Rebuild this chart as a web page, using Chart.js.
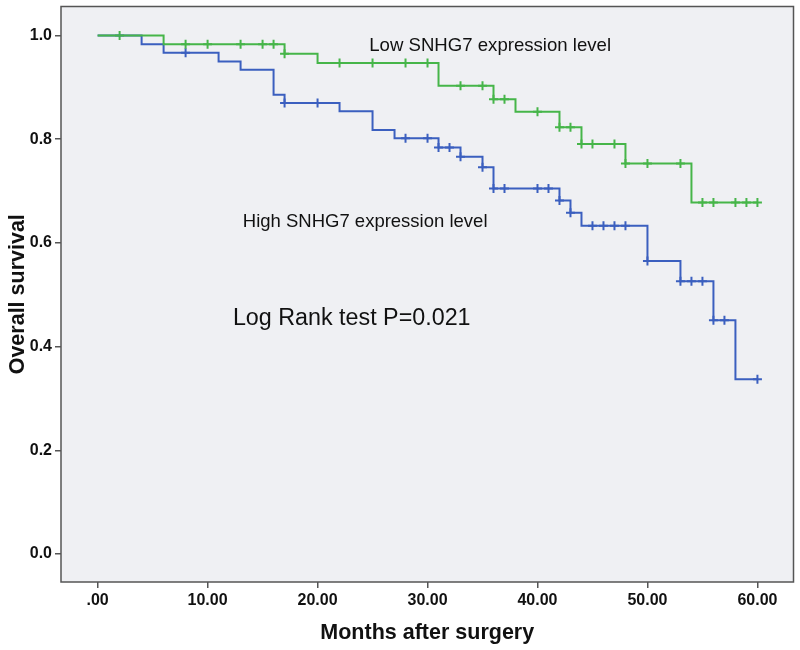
<!DOCTYPE html>
<html>
<head>
<meta charset="utf-8">
<script src="https://cdn.jsdelivr.net/npm/chart.js@4"></script>
<style>
  html, body { margin: 0; padding: 0; background: #fff; }
  #wrap { width: 800px; height: 650px; }
</style>
</head>
<body>
<div id="wrap"><canvas id="km" width="800" height="650"></canvas></div>
<script>
// Kaplan-Meier steps (time in months, survival after the drop)
const lowTimes = [0, 6, 17, 20, 31, 36, 38, 42, 44, 48, 54, 60];
const lowSurv = [1.0, 0.983, 0.965, 0.947, 0.903, 0.877, 0.853, 0.823, 0.791, 0.753, 0.678, 0.678];
const lowCensored = [2, 8, 10, 13, 15, 16, 17, 22, 25, 28, 30, 33, 35, 36, 37, 40, 42, 43, 44, 45, 47, 48, 50, 53, 55, 56, 58, 59, 60];

const highTimes = [0, 4, 6, 11, 13, 16, 17, 22, 25, 27, 31, 33, 35, 36, 42, 43, 44, 50, 53, 56, 58, 60];
const highSurv = [1.0, 0.983, 0.967, 0.95, 0.934, 0.886, 0.87, 0.854, 0.818, 0.802, 0.784, 0.766, 0.746, 0.705, 0.682, 0.658, 0.633, 0.565, 0.526, 0.451, 0.337, 0.337];
const highCensored = [8, 17, 20, 28, 30, 31, 32, 33, 35, 36, 37, 40, 41, 42, 43, 45, 46, 47, 48, 50, 53, 54, 55, 56, 57, 60];

const xTicks = [0, 10, 20, 30, 40, 50, 60];
const xTickLabels = [".00", "10.00", "20.00", "30.00", "40.00", "50.00", "60.00"];
const yTicks = [0, 0.2, 0.4, 0.6, 0.8, 1.0];
const yTickLabels = ["0.0", "0.2", "0.4", "0.6", "0.8", "1.0"];

const GREEN = "#46b549";
const BLUE = "#3b5fbf";
const FONT = "'Liberation Sans', Arial, sans-serif";

// survival value of a step curve at time t
function survAt(times, surv, t) {
  let v = surv[0];
  for (let i = 0; i < times.length; i++) {
    if (times[i] <= t) v = surv[i];
  }
  return v;
}

const toPoints = (xs, ys) => xs.map((x, i) => ({ x: x, y: ys[i] }));
const censorPoints = (cs, times, surv) => cs.map((t) => ({ x: t, y: survAt(times, surv, t) }));

// labels placed inside the plot (data coordinates)
const notes = [
  { text: "Low SNHG7 expression level", x: 24.7, y: 0.981, size: 18.6 },
  { text: "High SNHG7 expression level", x: 13.2, y: 0.640, size: 18.5 },
  { text: "Log Rank test P=0.021", x: 12.3, y: 0.455, size: 23.3 },
];

const framePlugin = {
  id: "frame",
  beforeDatasetsDraw(chart) {
    const { ctx, chartArea: a } = chart;
    ctx.save();
    ctx.fillStyle = "#eff0f3";
    ctx.fillRect(a.left, a.top, a.right - a.left, a.bottom - a.top);
    ctx.restore();
  },
  afterDraw(chart) {
    const { ctx, chartArea: a, scales } = chart;
    ctx.save();
    ctx.strokeStyle = "#555";
    ctx.lineWidth = 1.5;
    ctx.strokeRect(a.left, a.top, a.right - a.left, a.bottom - a.top);
    ctx.fillStyle = "#111";
    ctx.textBaseline = "middle";
    ctx.textAlign = "left";
    notes.forEach((n) => {
      ctx.font = n.size + "px " + FONT;
      ctx.fillText(n.text, scales.x.getPixelForValue(n.x), scales.y.getPixelForValue(n.y));
    });
    ctx.restore();
  },
};

new Chart(document.getElementById("km"), {
  type: "scatter",
  data: {
    datasets: [
      {
        label: "Low",
        data: toPoints(lowTimes, lowSurv),
        showLine: true,
        stepped: "before",
        borderColor: GREEN,
        borderWidth: 2,
        pointRadius: 0,
      },
      {
        label: "High",
        data: toPoints(highTimes, highSurv),
        showLine: true,
        stepped: "before",
        borderColor: BLUE,
        borderWidth: 2,
        pointRadius: 0,
      },
      {
        label: "Low censored",
        data: censorPoints(lowCensored, lowTimes, lowSurv),
        pointStyle: "cross",
        pointRadius: 4.5,
        borderColor: GREEN,
        borderWidth: 2,
      },
      {
        label: "High censored",
        data: censorPoints(highCensored, highTimes, highSurv),
        pointStyle: "cross",
        pointRadius: 4.5,
        borderColor: BLUE,
        borderWidth: 2,
      },
    ],
  },
  options: {
    responsive: false,
    animation: false,
    layout: { padding: { top: 6, right: 4, left: 0, bottom: 0 } },
    plugins: { legend: { display: false }, tooltip: { enabled: false } },
    scales: {
      x: {
        type: "linear",
        min: -3.33,
        max: 63.28,
        afterBuildTicks: (s) => { s.ticks = xTicks.map((v) => ({ value: v })); },
        afterFit: (s) => { s.height = 68; s.paddingLeft = 0; s.paddingRight = 0; },
        ticks: {
          callback: (v) => xTickLabels[xTicks.indexOf(v)],
          color: "#111",
          font: { family: FONT, size: 16, weight: "bold" },
          padding: 3,
          maxRotation: 0,
          autoSkip: false,
        },
        grid: { drawOnChartArea: false, drawTicks: true, tickLength: 6, color: "#555", lineWidth: 1.5 },
        border: { display: false },
        title: {
          display: true,
          text: "Months after surgery",
          color: "#111",
          font: { family: FONT, size: 21.5, weight: "bold" },
          padding: { top: 4, bottom: 4 },
        },
      },
      y: {
        type: "linear",
        min: -0.054,
        max: 1.056,
        afterBuildTicks: (s) => { s.ticks = yTicks.map((v) => ({ value: v })); },
        afterFit: (s) => { s.width = 61; s.paddingTop = 0; s.paddingBottom = 0; },
        ticks: {
          callback: (v) => yTickLabels[yTicks.findIndex((t) => Math.abs(t - v) < 1e-6)],
          color: "#111",
          font: { family: FONT, size: 16, weight: "bold" },
          padding: 3,
          autoSkip: false,
        },
        grid: { drawOnChartArea: false, drawTicks: true, tickLength: 6, color: "#555", lineWidth: 1.5 },
        border: { display: false },
        title: {
          display: true,
          text: "Overall survival",
          color: "#111",
          font: { family: FONT, size: 21.5, weight: "bold" },
          padding: { top: 5, bottom: 4 },
        },
      },
    },
  },
  plugins: [framePlugin],
});
</script>
</body>
</html>
